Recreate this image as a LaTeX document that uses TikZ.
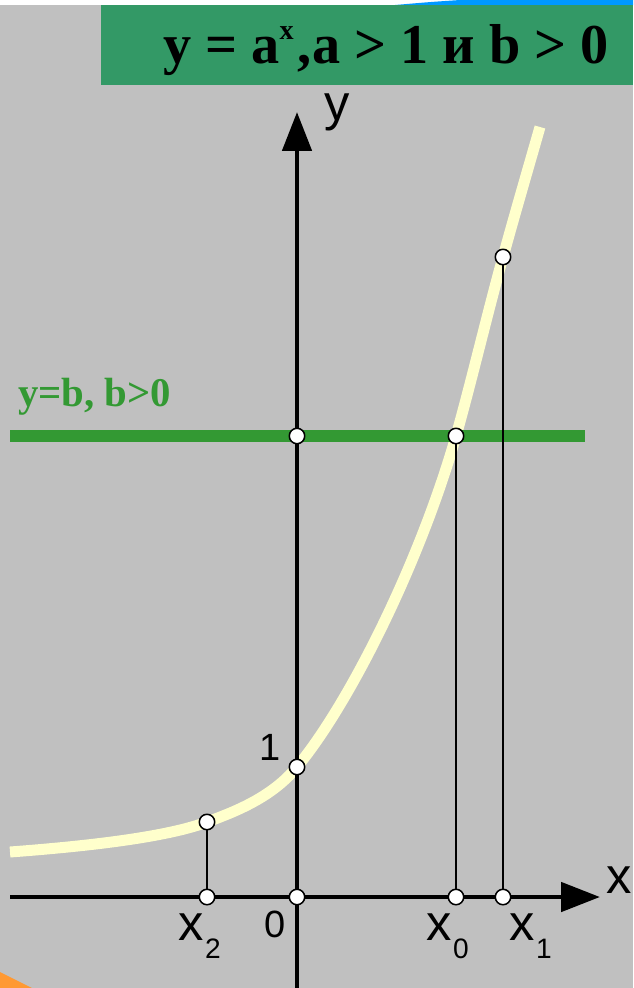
\documentclass[tikz,border=0pt]{standalone}
\usepackage{fontspec}
\setmainfont{Liberation Serif}
\newfontfamily\labfont{Liberation Sans}
\usetikzlibrary{arrows.meta}
\definecolor{bggray}{RGB}{192,192,192}
\definecolor{titlegreen}{RGB}{51,153,102}
\definecolor{linegreen}{RGB}{51,153,51}
\definecolor{curvefill}{RGB}{255,255,204}
\definecolor{cornerblue}{RGB}{0,153,255}
\definecolor{cornerorange}{RGB}{255,153,51}
\tikzset{
    lab/.style={
        font=\labfont\fontsize{36}{36}\selectfont, inner sep=0pt
    },
    num/.style={
        font=\labfont\fontsize{27}{27}\selectfont, inner sep=0pt
    }
}
\newcommand{\subx}[1]{x\kern1pt\raisebox{-13pt}{\fontsize{20}{20}\selectfont #1}}

\begin{document}
\begin{tikzpicture}[x=0.025cm,y=-0.025cm, line join=round]

\tikzset{
  axis/.style={draw=black, line width=3.5pt, -{Triangle[length=27.6pt,width=20.5pt]}},
  drop/.style={draw=black, line width=1.4pt},
  graph/.style={draw=curvefill, line width=7.8pt},
  level/.style={draw=linegreen, line width=8.5pt},
  pt/.style={circle, draw=black, fill=white, line width=1.1pt, minimum size=11pt, inner sep=0pt},
}

% background
\useasboundingbox (0,0) rectangle (633,988);
\fill[bggray] (0,5) rectangle (633,988);
\fill[white] (0,0) rectangle (633,5);
\fill[cornerblue] (395,5) .. controls (430,2) .. (460,0) -- (633,0) -- (633,5) -- cycle;
\fill[cornerorange] (0,972) -- (32,988) -- (0,988) -- cycle;

% title
\fill[titlegreen] (101,5) rectangle (633,85);
\node[anchor=base west, inner sep=0pt, font=\bfseries\fontsize{40}{40}\selectfont] (title) at (163,63)
  {y = a\raisebox{17pt}{\fontsize{20}{20}\selectfont x}\kern3pt,a > 1 и b > 0};

\coordinate (O) at (297,897);
\coordinate (Xs) at (10,897);
\coordinate (Xe) at (600,897);
\coordinate (Ys) at (297,988);
\coordinate (Ye) at (297,112);
\coordinate (Bl) at (10,436);
\coordinate (Br) at (585,436);
\coordinate (Gs) at (10,852);
\coordinate (Ge) at (540,127);
\coordinate (P2) at (207,822);
\coordinate (Q2) at (207,897);
\coordinate (P1) at (297,767);
\coordinate (PB) at (297,436);
\coordinate (P0) at (456,436);
\coordinate (Q0) at (456,897);
\coordinate (PX) at (503,257);
\coordinate (QX) at (503,897);

% graph of y = a^x
\draw[graph] (Gs) .. controls (90,846) and (167,837) .. (P2)
  .. controls (237,811) and (272,797) .. (P1)
  .. controls (350,703) and (420,562) .. (P0)
  .. controls (471,383) and (488,311) .. (PX)
  .. controls (516,210) and (528,169) .. (Ge);

% line y = b
\draw[level] (Bl) -- (Br);
\node[anchor=base west, inner sep=0pt, text=linegreen, font=\bfseries\fontsize{29}{29}\selectfont] (blab) at (18,406) {y=b, b>0};

% axes
\draw[axis] (Xs) -- (Xe);
\draw[axis] (Ys) -- (Ye);

% drops to the x axis
\draw[drop] (P2) -- (Q2);
\draw[drop] (P0) -- (Q0);
\draw[drop] (PX) -- (QX);

% points
\node[pt] (p2) at (P2) {};
\node[pt] (q2) at (Q2) {};
\node[pt] (o) at (O) {};
\node[pt] (p1) at (P1) {};
\node[pt] (pb) at (PB) {};
\node[pt] (p0) at (P0) {};
\node[pt] (q0) at (Q0) {};
\node[pt] (px) at (PX) {};
\node[pt] (qx) at (QX) {};

% labels
\node[lab, anchor=base west] (ylab) at (324,120) {y};
\node[lab, anchor=base west] (xlab) at (606,893) {x};
\node[num, anchor=base east] (zero) at (286,937) {0};
\node[num, anchor=base east] (one) at (281,760) {1};
\node[lab, anchor=base west] (x2lab) at (178,940) {\subx{2}};
\node[lab, anchor=base west] (x0lab) at (426,940) {\subx{0}};
\node[lab, anchor=base west] (x1lab) at (509,940) {\subx{1}};

\end{tikzpicture}
\end{document}
